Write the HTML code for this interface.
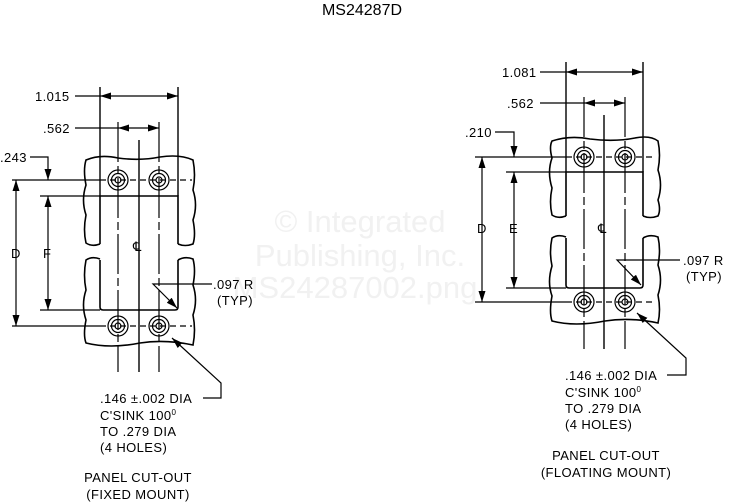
<!DOCTYPE html>
<html><head><meta charset="utf-8"><style>
html,body{margin:0;padding:0;background:#fff;}
svg{display:block;}
text{font-family:"Liberation Sans",sans-serif;fill:#000;}
text.w{fill:#f1f1f1;font-size:31px;}
</style></head><body>
<svg width="730" height="504" viewBox="0 0 730 504" xmlns="http://www.w3.org/2000/svg">
<defs>
<marker id="a" viewBox="0 0 11 7" refX="11" refY="3.5" markerWidth="11" markerHeight="7" markerUnits="userSpaceOnUse" orient="auto-start-reverse"><path d="M0,0L11,3.5L0,7z" fill="#000"/></marker>
</defs>
<text x="362" y="15" font-size="16" text-anchor="middle">MS24287D</text>
<g text-anchor="middle">
<text x="360" y="232" class="w">© Integrated</text>
<text x="360" y="266" class="w">Publishing, Inc.</text>
<text x="355" y="298" class="w">MS24287002.png</text>
</g>

<g stroke="#000" fill="none" stroke-width="1.6">
<!-- LEFT -->
<path d="M100,244 Q92,247 86,243 Q83,230 86,215 Q81,200 86,185 Q83,170 86,160 Q100,154 118,158 Q140,161 160,157 Q180,154 193,160 Q196,175 193,190 Q198,205 193,220 Q196,235 193,244 Q185,247 178,244"/>
<path d="M100,259 Q92,256 86,260 Q83,275 86,290 Q81,305 86,320 Q83,335 86,343 Q110,349 140,343 Q165,339 193,345 Q196,330 193,315 Q198,300 193,285 Q196,270 193,259 Q185,256 178,260"/>
<path d="M100,244 L100,196 L178,196 L178,244"/>
<path d="M100,260 L100,307 Q100,310 103,310 L175,310 Q178,310 178,307 L178,260"/>
<path d="M100,87 V196 M178,87 V196" stroke-width="1.4"/>
<path d="M75,96 H100" stroke-width="1.2"/>
<path d="M100,96 H178" stroke-width="1.2" marker-start="url(#a)" marker-end="url(#a)"/>
<path d="M75,128 H118" stroke-width="1.2"/>
<path d="M118,128 H159" stroke-width="1.2" marker-start="url(#a)" marker-end="url(#a)"/>
<path d="M118,122 V372 M159,122 V372" stroke-width="1.2" stroke-dasharray="40,4,8,4"/>
<path d="M139,140 V372" stroke-width="1.4"/>
<path d="M30,157 H48 V180" stroke-width="1.2" marker-end="url(#a)"/>
<path d="M12,180 H100" stroke-width="1.2"/><path d="M100,180 H192" stroke-width="1.2" stroke-dasharray="6,4"/>
<path d="M12,326 H100" stroke-width="1.2"/><path d="M100,326 H192" stroke-width="1.2" stroke-dasharray="6,4"/>
<path d="M40,196 H100 M40,310 H100" stroke-width="1.2"/>
<path d="M16,180 V326" stroke-width="1.2" marker-start="url(#a)" marker-end="url(#a)"/>
<path d="M48,196 V310" stroke-width="1.2" marker-start="url(#a)" marker-end="url(#a)"/>
<path d="M212,284 H153 L177,308" stroke-width="1.2" marker-end="url(#a)"/>
<path d="M203,398 H221 V383 L172,338" stroke-width="1.2" marker-end="url(#a)"/>
<g stroke-width="1.2">
<circle cx="118" cy="180" r="10"/><circle cx="118" cy="180" r="6.5"/><circle cx="118" cy="180" r="3"/>
<circle cx="159" cy="180" r="10"/><circle cx="159" cy="180" r="6.5"/><circle cx="159" cy="180" r="3"/>
<circle cx="118" cy="326" r="10"/><circle cx="118" cy="326" r="6.5"/><circle cx="118" cy="326" r="3"/>
<circle cx="159" cy="326" r="10"/><circle cx="159" cy="326" r="6.5"/><circle cx="159" cy="326" r="3"/>
</g>

<!-- RIGHT -->
<path d="M566,216 Q558,219 552,215 Q549,202 552,188 Q547,172 552,158 Q549,147 552,141 Q570,135 590,139 Q615,142 635,138 Q650,135 658,141 Q661,155 658,170 Q663,185 658,200 Q661,210 658,216 Q650,219 643,216"/>
<path d="M566,237 Q558,234 552,238 Q549,252 552,266 Q547,282 552,296 Q549,312 552,321 Q575,327 605,321 Q630,317 658,323 Q661,310 658,295 Q663,280 658,265 Q661,250 658,237 Q650,234 643,238"/>
<path d="M566,216 L566,172 L643,172 L643,216"/>
<path d="M566,238 L566,285 Q566,288 569,288 L640,288 Q643,288 643,285 L643,238"/>
<path d="M566,62 V172 M643,62 V172" stroke-width="1.4"/>
<path d="M540,72 H566" stroke-width="1.2"/>
<path d="M566,72 H643" stroke-width="1.2" marker-start="url(#a)" marker-end="url(#a)"/>
<path d="M540,103 H584" stroke-width="1.2"/>
<path d="M584,103 H625" stroke-width="1.2" marker-start="url(#a)" marker-end="url(#a)"/>
<path d="M584,97 V349 M625,97 V349" stroke-width="1.2" stroke-dasharray="40,4,8,4"/>
<path d="M604,115 V349" stroke-width="1.4"/>
<path d="M495,132 H514 V157" stroke-width="1.2" marker-end="url(#a)"/>
<path d="M475,157 H566" stroke-width="1.2"/><path d="M566,157 H652" stroke-width="1.2" stroke-dasharray="6,4"/>
<path d="M475,302 H566" stroke-width="1.2"/><path d="M566,302 H652" stroke-width="1.2" stroke-dasharray="6,4"/>
<path d="M506,172 H566 M506,288 H566" stroke-width="1.2"/>
<path d="M482,157 V302" stroke-width="1.2" marker-start="url(#a)" marker-end="url(#a)"/>
<path d="M514,172 V288" stroke-width="1.2" marker-start="url(#a)" marker-end="url(#a)"/>
<path d="M680,260 H617 L641,285" stroke-width="1.2" marker-end="url(#a)"/>
<path d="M667,375 H686 V358 L637,313" stroke-width="1.2" marker-end="url(#a)"/>
<g stroke-width="1.2">
<circle cx="584" cy="157" r="10"/><circle cx="584" cy="157" r="6.5"/><circle cx="584" cy="157" r="3"/>
<circle cx="625" cy="157" r="10"/><circle cx="625" cy="157" r="6.5"/><circle cx="625" cy="157" r="3"/>
<circle cx="584" cy="302" r="10"/><circle cx="584" cy="302" r="6.5"/><circle cx="584" cy="302" r="3"/>
<circle cx="625" cy="302" r="10"/><circle cx="625" cy="302" r="6.5"/><circle cx="625" cy="302" r="3"/>
</g>
</g>

<g font-size="13" letter-spacing="0.4">
<text x="35" y="101">1.015</text>
<text x="43" y="133">.562</text>
<text x="0" y="162">.243</text>
<text x="11" y="258">D</text>
<text x="43" y="258">F</text>
<text x="133" y="251">℄</text>
<text x="213" y="289">.097  R</text>
<text x="217" y="305">(TYP)</text>
<text x="100" y="403">.146 ±.002 DIA</text>
<text x="100" y="420">C'SINK 100<tspan font-size="8" dy="-5">0</tspan></text>
<text x="100" y="436">TO .279 DIA</text>
<text x="100" y="452">(4 HOLES)</text>
<text x="138" y="482" text-anchor="middle">PANEL CUT-OUT</text>
<text x="138" y="499" text-anchor="middle">(FIXED MOUNT)</text>

<text x="502" y="77">1.081</text>
<text x="507" y="108">.562</text>
<text x="465" y="137">.210</text>
<text x="477" y="233">D</text>
<text x="509" y="233">E</text>
<text x="598" y="233">℄</text>
<text x="683" y="265">.097  R</text>
<text x="686" y="281">(TYP)</text>
<text x="565" y="380">.146 ±.002 DIA</text>
<text x="565" y="397">C'SINK 100<tspan font-size="8" dy="-5">0</tspan></text>
<text x="565" y="413">TO .279 DIA</text>
<text x="565" y="429">(4 HOLES)</text>
<text x="606" y="460" text-anchor="middle">PANEL CUT-OUT</text>
<text x="606" y="477" text-anchor="middle">(FLOATING MOUNT)</text>
</g>
</svg>
</body></html>
